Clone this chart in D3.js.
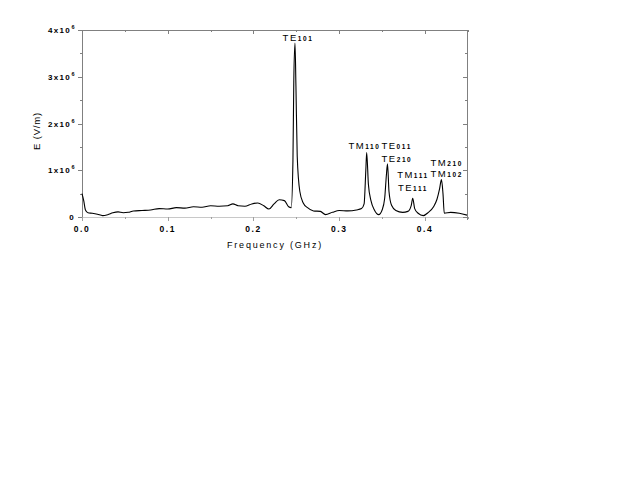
<!DOCTYPE html>
<html><head><meta charset="utf-8">
<script src="https://cdn.jsdelivr.net/npm/d3@7"></script>
<style>body{margin:0;background:#fff}svg{display:block}text{font-family:Arial,"Liberation Sans",sans-serif}</style>
</head><body><svg id="c" width="640" height="480"></svg>
<script>
// frequency (GHz)
const freq = [0.000,0.002,0.004,0.007,0.012,0.018,0.024,0.030,0.036,0.042,0.048,0.054,0.060,0.070,0.080,0.090,0.100,0.110,0.120,0.130,0.140,0.150,0.160,0.170,0.176,0.182,0.190,0.198,0.205,0.212,0.218,0.224,0.230,0.236,0.241,0.244,0.246,0.247,0.2484,0.2495,0.251,0.254,0.258,0.263,0.270,0.278,0.284,0.292,0.300,0.310,0.320,0.326,0.329,0.331,0.332,0.334,0.337,0.341,0.346,0.350,0.353,0.355,0.3563,0.358,0.361,0.366,0.374,0.380,0.384,0.3857,0.388,0.392,0.398,0.404,0.410,0.414,0.417,0.4192,0.421,0.4225,0.430,0.440,0.449];
// E field (x10^6 V/m)
const field = [0.50,0.35,0.15,0.09,0.08,0.06,0.03,0.05,0.09,0.11,0.09,0.10,0.13,0.14,0.15,0.18,0.17,0.20,0.19,0.22,0.21,0.24,0.23,0.24,0.28,0.24,0.23,0.28,0.30,0.24,0.17,0.28,0.37,0.35,0.22,0.20,1.2,2.9,3.72,2.8,1.3,0.55,0.30,0.20,0.13,0.12,0.05,0.10,0.14,0.13,0.15,0.18,0.28,1.0,1.38,0.7,0.35,0.15,0.05,0.15,0.40,0.9,1.14,0.55,0.25,0.14,0.10,0.12,0.25,0.40,0.18,0.08,0.03,0.10,0.22,0.38,0.60,0.80,0.50,0.08,0.10,0.08,0.04];
const xTicks = [0.0,0.1,0.2,0.3,0.4];
const xTickLabels = ["0.0","0.1","0.2","0.3","0.4"];
const yTicks = [0,1,2,3,4];
const yTickLabels = ["0","1x10","2x10","3x10","4x10"];
// mode annotations: name, subscript, label position in data units
const modeName = ["TE","TM","TE","TE","TM","TE","TM","TM"];
const modeSub  = ["101","110","011","210","111","111","210","102"];
const modeF    = [0.2519,0.3294,0.367,0.3673,0.386,0.386,0.4254,0.4254];
const modeV    = [3.765,1.444,1.455,1.166,0.834,0.556,1.091,0.866];

const svg = d3.select("#c");
const x = d3.scaleLinear().domain([0,0.449]).range([82,467]);
const y = d3.scaleLinear().domain([0,4]).range([217,30]);
const axisCol = "#808080";

// frame lines
svg.append("line").attr("x1",82).attr("x2",467).attr("y1",30.5).attr("y2",30.5).attr("stroke",axisCol);
svg.append("line").attr("x1",82.5).attr("x2",82.5).attr("y1",30).attr("y2",220).attr("stroke",axisCol);
svg.append("line").attr("x1",467.5).attr("x2",467.5).attr("y1",30).attr("y2",220).attr("stroke",axisCol);
svg.append("line").attr("x1",82).attr("x2",467).attr("y1",y(0)+0.5).attr("y2",y(0)+0.5).attr("stroke","#c8c8c8");

const minorY = d3.range(0,4.01,0.5);
const minorX = d3.range(0,0.4501,0.05);
// left ticks outward
svg.append("g").selectAll("line").data(minorY).join("line")
  .attr("x1",d=>Number.isInteger(d)?78:80).attr("x2",82).attr("y1",d=>Math.round(y(d))+0.5).attr("y2",d=>Math.round(y(d))+0.5).attr("stroke",axisCol);
// right ticks inward
svg.append("g").selectAll("line").data(minorY).join("line")
  .attr("x1",d=>Number.isInteger(d)?463:465).attr("x2",467).attr("y1",d=>Math.round(y(d))+0.5).attr("y2",d=>Math.round(y(d))+0.5).attr("stroke",axisCol);
// top ticks inward
svg.append("g").selectAll("line").data(minorX).join("line")
  .attr("x1",d=>Math.round(x(d))+0.5).attr("x2",d=>Math.round(x(d))+0.5).attr("y1",30).attr("y2",d=>Math.abs(d*10-Math.round(d*10))<1e-6?34:32).attr("stroke",axisCol);
// bottom ticks outward
svg.append("g").selectAll("line").data(minorX).join("line")
  .attr("x1",d=>Math.round(x(d))+0.5).attr("x2",d=>Math.round(x(d))+0.5).attr("y1",y(0)).attr("y2",d=>Math.abs(d*10-Math.round(d*10))<1e-6?221:219).attr("stroke","#a0a0a0");

// x tick labels
svg.append("g").selectAll("text").data(xTicks).join("text")
  .attr("x",d=>x(d)).attr("y",232).attr("text-anchor","middle")
  .attr("font-size",8.5).attr("font-weight","bold").attr("letter-spacing",1.6)
  .text((d,i)=>xTickLabels[i]);
// y tick labels
svg.append("g").selectAll("text").data(yTicks).join("text")
  .attr("x",d=>d===0?75:71).attr("y",d=>y(d)+3).attr("text-anchor","end")
  .attr("font-size",8).attr("font-weight","bold").attr("letter-spacing",1.3)
  .text((d,i)=>yTickLabels[i]);
svg.append("g").selectAll("text").data(yTicks.filter(d=>d>0)).join("text")
  .attr("x",71.5).attr("y",d=>y(d)-1).attr("font-size",5.5).attr("font-weight","bold").text("6");

// axis titles
svg.append("text").attr("x",275).attr("y",248).attr("text-anchor","middle")
  .attr("font-size",9).attr("letter-spacing",1.8).text("Frequency (GHz)");
svg.append("text").attr("transform","translate(40,131) rotate(-90)").attr("text-anchor","middle")
  .attr("font-size",9.5).attr("letter-spacing",0.8).text("E (V/m)");

// curve
const pts = freq.map((f,i)=>[f,field[i]]);
svg.append("path").datum(pts)
  .attr("d",d3.line().x(d=>x(d[0])).y(d=>y(d[1])).curve(d3.curveMonotoneX))
  .attr("fill","none").attr("stroke","#000").attr("stroke-width",1.1);

// mode labels
const ml = svg.append("g").selectAll("text").data(modeName).join("text")
  .attr("x",(d,i)=>x(modeF[i])).attr("y",(d,i)=>y(modeV[i])).attr("text-anchor","middle")
  .attr("font-size",9.5).attr("letter-spacing",1.5);
ml.append("tspan").text(d=>d);
ml.append("tspan").attr("font-size",6.5).attr("font-weight","bold").attr("letter-spacing",1.6).text((d,i)=>modeSub[i]);
</script></body></html>
